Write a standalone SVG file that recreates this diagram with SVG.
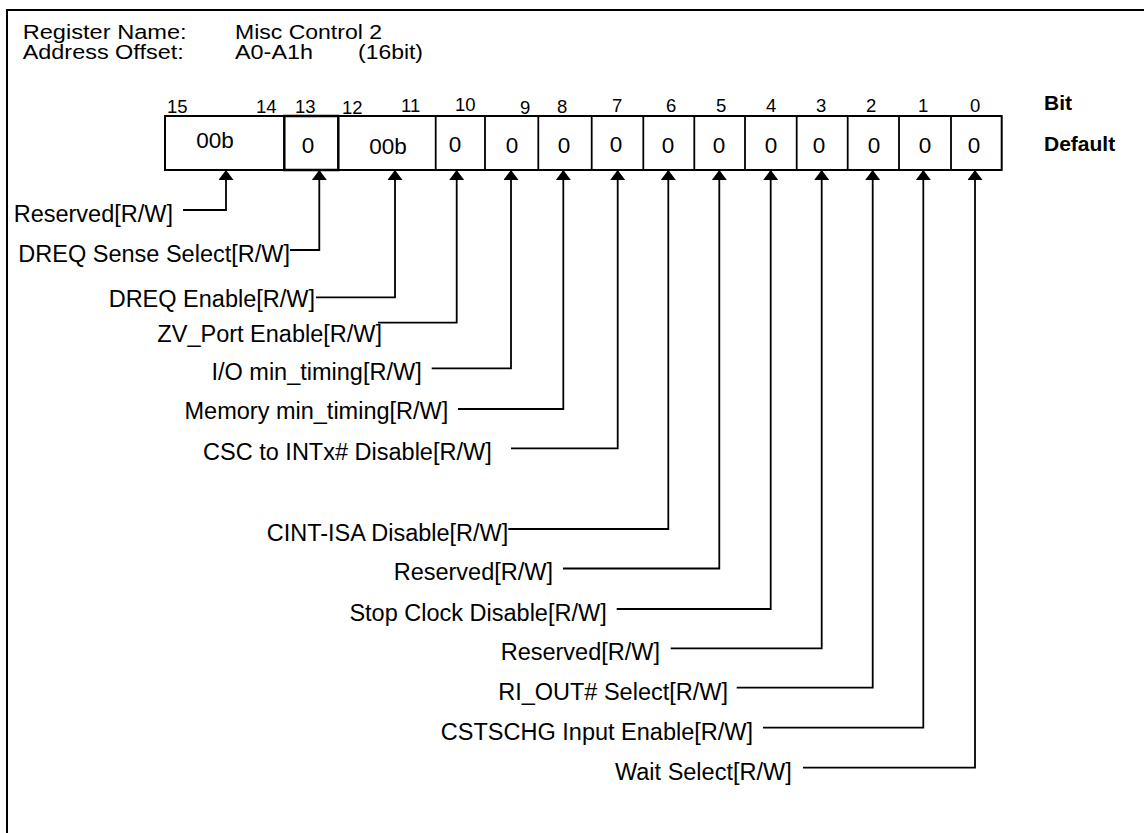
<svg xmlns="http://www.w3.org/2000/svg" width="1144" height="833" viewBox="0 0 1144 833">
<style>
text{font-family:"Liberation Sans",Arial,sans-serif;fill:#000}
.hdr{font-size:20.5px}
.num{font-size:18.5px}
.val{font-size:22.5px;text-anchor:middle}
.bold{font-size:21px;font-weight:bold}
.lbl{font-size:23.5px;text-anchor:end}
.ln{fill:none;stroke:#000;stroke-width:1.8}
.box{fill:#fff;stroke:#000;stroke-width:2}
</style>
<defs>
<marker id="ah" viewBox="0 0 10 15" refX="10" refY="7.5" markerWidth="10" markerHeight="15" markerUnits="userSpaceOnUse" orient="auto">
<path d="M0,0 L10,7.5 L0,15 z" fill="#000"/>
</marker>
</defs>
<rect width="1144" height="833" fill="#fff"/>
<path d="M7,833 V10 H1144" fill="none" stroke="#000" stroke-width="2"/>
<g id="header">
<text class="hdr" x="22.7" y="38.5" textLength="164" lengthAdjust="spacingAndGlyphs">Register Name:</text>
<text class="hdr" x="235" y="38.5" textLength="147" lengthAdjust="spacingAndGlyphs">Misc Control 2</text>
<text class="hdr" x="22.7" y="59" textLength="161" lengthAdjust="spacingAndGlyphs">Address Offset:</text>
<text class="hdr" x="235" y="59" textLength="78" lengthAdjust="spacingAndGlyphs">A0-A1h</text>
<text class="hdr" x="358" y="59" textLength="65" lengthAdjust="spacingAndGlyphs">(16bit)</text>
</g>
<g id="bitnumbers">
<text class="num" x="167" y="113">15</text>
<text class="num" x="256" y="113">14</text>
<text class="num" x="295" y="113">13</text>
<text class="num" x="342" y="114">12</text>
<text class="num" x="401" y="112">11</text>
<text class="num" x="455" y="111">10</text>
<text class="num" x="520" y="114">9</text>
<text class="num" x="557" y="113">8</text>
<text class="num" x="612" y="112">7</text>
<text class="num" x="666" y="112">6</text>
<text class="num" x="716" y="112">5</text>
<text class="num" x="766" y="112">4</text>
<text class="num" x="816" y="112">3</text>
<text class="num" x="866" y="112">2</text>
<text class="num" x="918" y="112">1</text>
<text class="num" x="970" y="112">0</text>
<text class="bold" x="1044" y="110">Bit</text>
<text class="bold" x="1044" y="151">Default</text>
</g>
<g id="register">
<rect class="box" x="165" y="116" width="836.7" height="54"/>
<path class="ln" d="M435.7,116V170 M485,116V170 M538.3,116V170 M591.7,116V170 M643.3,116V170 M694.3,116V170 M745,116V170 M796.7,116V170 M847.7,116V170 M899,116V170 M951,116V170" stroke-width="2"/>
<rect x="284.3" y="116" width="54" height="54" fill="#fff" stroke="#000" stroke-width="2.5"/>
<text class="val" x="215" y="148">00b</text>
<text class="val" x="308" y="153">0</text>
<text class="val" x="388" y="154">00b</text>
<text class="val" x="455" y="152">0</text>
<text class="val" x="512" y="153">0</text>
<text class="val" x="564" y="153">0</text>
<text class="val" x="616" y="152">0</text>
<text class="val" x="668" y="153">0</text>
<text class="val" x="719" y="153">0</text>
<text class="val" x="771" y="153">0</text>
<text class="val" x="819" y="153">0</text>
<text class="val" x="874" y="153">0</text>
<text class="val" x="925" y="153">0</text>
<text class="val" x="974" y="153">0</text>
</g>
<g id="connectors">
<path class="ln" marker-end="url(#ah)" d="M183,210 H226 V170"/>
<path class="ln" marker-end="url(#ah)" d="M290,250 H319.3 V170"/>
<path class="ln" marker-end="url(#ah)" d="M316,297.3 H395 V170"/>
<path class="ln" marker-end="url(#ah)" d="M378,322.7 H456.7 V170"/>
<path class="ln" marker-end="url(#ah)" d="M431.7,368.3 H511 V170"/>
<path class="ln" marker-end="url(#ah)" d="M458,409 H563.3 V170"/>
<path class="ln" marker-end="url(#ah)" d="M511,448.3 H617.7 V170"/>
<path class="ln" marker-end="url(#ah)" d="M508.3,529 H668.3 V170"/>
<path class="ln" marker-end="url(#ah)" d="M563,568.5 H719.3 V170"/>
<path class="ln" marker-end="url(#ah)" d="M616.7,609 H770.7 V170"/>
<path class="ln" marker-end="url(#ah)" d="M670.7,648.3 H821.7 V170"/>
<path class="ln" marker-end="url(#ah)" d="M736.7,687.7 H872.7 V170"/>
<path class="ln" marker-end="url(#ah)" d="M763,727.7 H923.3 V170"/>
<path class="ln" marker-end="url(#ah)" d="M803,767.7 H975 V170"/>
</g>
<g id="lbl-b15-14"><text class="lbl" x="173" y="221.5">Reserved[R/W]</text></g>
<g id="lbl-b13"><text class="lbl" x="290" y="261.5">DREQ Sense Select[R/W]</text></g>
<g id="lbl-b12-11"><text class="lbl" x="315" y="306.5">DREQ Enable[R/W]</text></g>
<g id="lbl-b10"><text class="lbl" x="382" y="341.5">ZV_Port Enable[R/W]</text></g>
<g id="lbl-b9"><text class="lbl" x="421.7" y="380">I/O min_timing[R/W]</text></g>
<g id="lbl-b8"><text class="lbl" x="448.3" y="419">Memory min_timing[R/W]</text></g>
<g id="lbl-b7"><text class="lbl" x="491.7" y="460">CSC to INTx# Disable[R/W]</text></g>
<g id="lbl-b6"><text class="lbl" x="508.3" y="541">CINT-ISA Disable[R/W]</text></g>
<g id="lbl-b5"><text class="lbl" x="553" y="580">Reserved[R/W]</text></g>
<g id="lbl-b4"><text class="lbl" x="606.7" y="621">Stop Clock Disable[R/W]</text></g>
<g id="lbl-b3"><text class="lbl" x="660" y="660">Reserved[R/W]</text></g>
<g id="lbl-b2"><text class="lbl" x="728" y="699.5">RI_OUT# Select[R/W]</text></g>
<g id="lbl-b1"><text class="lbl" x="753" y="739.5">CSTSCHG Input Enable[R/W]</text></g>
<g id="lbl-b0"><text class="lbl" x="791.7" y="779.5">Wait Select[R/W]</text></g>
</svg>
